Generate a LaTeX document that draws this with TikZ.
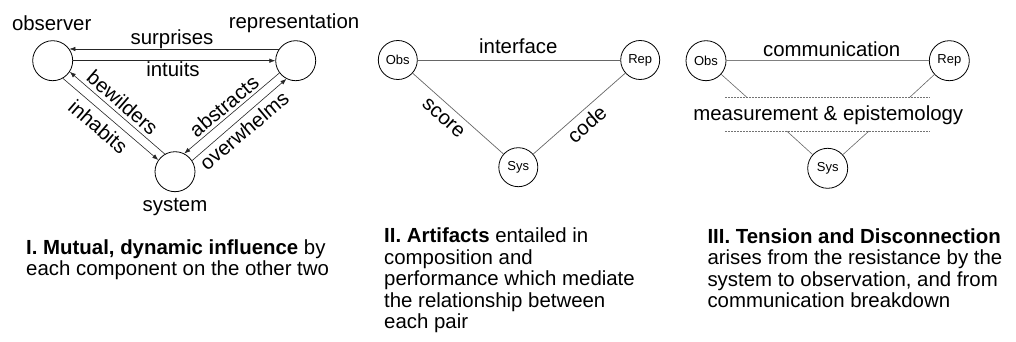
\documentclass[tikz,border=0pt]{standalone}
\usepackage{fontspec}
\setmainfont{Liberation Sans}
\usetikzlibrary{arrows.meta}
\begin{document}
\begin{tikzpicture}[x=1pt,y=-1pt,
  ring/.style={circle,draw=black,line width=0.8pt,minimum size=40pt,inner sep=0pt},
  sring/.style={ring,minimum size=39pt},
  lbl/.style={inner sep=0pt,font=\fontsize{20.4}{21.5}\selectfont},
  tiny/.style={font=\fontsize{13}{15}\selectfont},
  caption/.style={lbl,anchor=base west,align=left},
  flow/.style={draw=black!85,line width=0.6pt,-{Latex[length=6pt,width=4.5pt]}},
  link/.style={draw=black!60,line width=0.7pt},
  commlink/.style={draw=black!50,line width=1.6pt},
  cut/.style={draw=black!55,line width=0.6pt,dash pattern=on 1.5pt off 1.5pt},
  stub/.style={draw=black!60,line width=0.6pt}]
\useasboundingbox (0,0) rectangle (1016,342);

% ---- Panel I: mutual influence ----
\node[ring] (obs) at (52.7,60.7) {};
\node[ring] (rep) at (295.7,60.7) {};
\node[ring] (sys) at (175,171.7) {};
\node[lbl,anchor=base] (obsname) at (51.7,30.5) {observer};
\node[lbl,anchor=base] (repname) at (294,28.5) {representation};
\node[lbl,anchor=base] (sysname) at (175,211.7) {system};

\draw[flow] (rep.145) -- (obs.35);
\draw[flow] (obs.east) -- (rep.west);
\draw[flow] (sys.120) -- (obs.-33);
\draw[flow] (obs.-60) -- (sys.145);
\draw[flow] (rep.-143) -- (sys.63);
\draw[flow] (sys.33) -- (rep.-117);

\node[lbl,anchor=base] (surp) at (172,44.3) {surprises};
\node[lbl,anchor=base] (intu) at (173,76.7) {intuits};
\node[lbl,rotate=-41] (bew) at (122.7,102.7) {bewilders};
\node[lbl,rotate=-41] (inh) at (98.3,126.7) {inhabits};
\node[lbl,rotate=40] (abs) at (224,106) {abstracts};
\node[lbl,rotate=40] (ovr) at (244,130.7) {overwhelms};

% ---- Panel II: artifacts ----
\node[sring,tiny] (obsB) at (397.8,60) {Obs};
\node[sring,tiny] (repB) at (640.2,60) {Rep};
\node[sring,tiny] (sysB) at (518.3,167.2) {Sys};
\draw[link] (obsB) -- (repB);
\draw[link] (obsB) -- (sysB);
\draw[link] (sysB) -- (repB);
\node[lbl,anchor=base] (iface) at (518.3,54) {interface};
\node[lbl,rotate=-41.5] (score) at (443.3,118.3) {score};
\node[lbl,rotate=41] (code) at (586.7,124) {code};

% ---- Panel III: tension and disconnection ----
\node[ring,tiny] (obsC) at (706,60.7) {Obs};
\node[ring,tiny] (repC) at (949.3,60.7) {Rep};
\node[ring,tiny] (sysC) at (827.7,168.3) {Sys};
\coordinate (upL) at (725,97.7);
\coordinate (upR) at (929.3,97.7);
\coordinate (loL) at (725,131);
\coordinate (loR) at (929.3,131);
\coordinate (ul) at (747.3,97.7);
\coordinate (ur) at (909.3,97.7);
\coordinate (ll) at (786.7,131);
\coordinate (lr) at (869,131);
\draw[commlink] (obsC) -- (repC);
\draw[cut] (upL) -- (upR);
\draw[cut] (loL) -- (loR);
\draw[stub] (obsC) -- (ul);
\draw[stub] (repC) -- (ur);
\draw[stub] (ll) -- (sysC);
\draw[stub] (lr) -- (sysC);
\node[lbl,anchor=base] (comm) at (831.7,56.5) {communication};
\node[lbl,anchor=base] (meas) at (828.3,120.7) {measurement \& epistemology};

% ---- Captions (anchored at the baseline of the last line) ----
\node[caption] (capA) at (26,275.8)
  {\textbf{I. Mutual, dynamic influence} by\\each component on the other two};
\node[caption] (capB) at (384,328.5)
  {\textbf{II. Artifacts} entailed in\\composition and\\performance which mediate\\the relationship between\\each pair};
\node[caption] (capC) at (707.3,307.5)
  {\textbf{III. Tension and Disconnection}\\arises from the resistance by the\\system to observation, and from\\communication breakdown};
\end{tikzpicture}
\end{document}
